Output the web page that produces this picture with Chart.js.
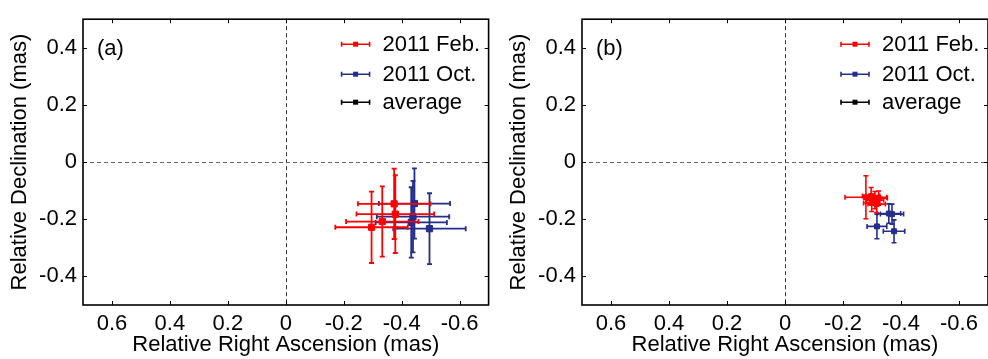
<!DOCTYPE html>
<html>
<head>
<meta charset="utf-8">
<script src="https://cdn.jsdelivr.net/npm/chart.js@4.4.0/dist/chart.umd.min.js"></script>
<style>
html,body{margin:0;padding:0;background:#fff;width:988px;height:359px;overflow:hidden;}
canvas{position:absolute;top:0;}
</style>
</head>
<body>
<canvas id="ca" width="494" height="359" style="left:0px"></canvas>
<canvas id="cb" width="494" height="359" style="left:499px"></canvas>
<script>
// ---- tick labels ----
const xTickValues = [0.6, 0.4, 0.2, 0, -0.2, -0.4, -0.6];
const xTickLabels = ['0.6', '0.4', '0.2', '0', '-0.2', '-0.4', '-0.6'];
const yTickValues = [0.4, 0.2, 0, -0.2, -0.4];
const yTickLabels = ['0.4', '0.2', '0', '-0.2', '-0.4'];
const seriesNames = ['2011 Feb.', '2011 Oct.', 'average'];

// ---- panel (a) ----
const aFebX    = [-0.374, -0.378, -0.333, -0.296];
const aFebY    = [-0.146, -0.182, -0.208, -0.228];
const aFebXErr = [0.125, 0.134, 0.125, 0.125];
const aFebYErr = [0.123, 0.136, 0.123, 0.125];
const aOctX    = [-0.444, -0.439, -0.433, -0.496];
const aOctY    = [-0.145, -0.191, -0.211, -0.233];
const aOctXErr = [0.123, 0.125, 0.123, 0.125];
const aOctYErr = [0.123, 0.125, 0.123, 0.124];

// ---- panel (b) ----
const bFebX    = [-0.279, -0.297, -0.310, -0.323, -0.299, -0.316];
const bFebY    = [-0.123, -0.119, -0.133, -0.126, -0.143, -0.147];
const bFebXErr = [0.072, 0.030, 0.030, 0.030, 0.028, 0.030];
const bFebYErr = [0.075, 0.030, 0.030, 0.025, 0.030, 0.030];
const bOctX    = [-0.358, -0.369, -0.317, -0.376];
const bOctY    = [-0.180, -0.182, -0.225, -0.242];
const bOctXErr = [0.041, 0.040, 0.034, 0.037];
const bOctYErr = [0.034, 0.035, 0.043, 0.040];

const RED = '#ff0000', BLUE = '#232d8c', BLACK = '#000000';
const FONT = '"Liberation Sans", Arial, Helvetica, sans-serif';
const FS = 22;

function pts(xs, ys, xe, ye) {
  return xs.map((x, i) => ({x: x, y: ys[i], xErr: xe[i], yErr: ye[i]}));
}

const errorBarPlugin = {
  id: 'errorBars',
  beforeDatasetDraw(chart, args) {
    const ds = chart.data.datasets[args.index];
    const xs = chart.scales.x, ys = chart.scales.y;
    const ctx = chart.ctx;
    const cap = chart.options.plugins.errorBars.cap;
    ctx.save();
    ctx.strokeStyle = ds.borderColor;
    ctx.lineWidth = chart.options.plugins.errorBars.width;
    ds.data.forEach(p => {
      const px = xs.getPixelForValue(p.x), py = ys.getPixelForValue(p.y);
      const x1 = xs.getPixelForValue(p.x - p.xErr), x2 = xs.getPixelForValue(p.x + p.xErr);
      const y1 = ys.getPixelForValue(p.y - p.yErr), y2 = ys.getPixelForValue(p.y + p.yErr);
      ctx.beginPath();
      ctx.moveTo(x1, py); ctx.lineTo(x2, py);
      ctx.moveTo(x1, py - cap); ctx.lineTo(x1, py + cap);
      ctx.moveTo(x2, py - cap); ctx.lineTo(x2, py + cap);
      ctx.moveTo(px, y1); ctx.lineTo(px, y2);
      ctx.moveTo(px - cap, y1); ctx.lineTo(px + cap, y1);
      ctx.moveTo(px - cap, y2); ctx.lineTo(px + cap, y2);
      ctx.stroke();
    });
    ctx.restore();
  }
};

const framePlugin = {
  id: 'frame',
  beforeDatasetsDraw(chart) {
    const {ctx, chartArea: a} = chart;
    const xs = chart.scales.x, ys = chart.scales.y;
    const x0 = xs.getPixelForValue(0), y0 = ys.getPixelForValue(0);
    ctx.save();
    ctx.lineWidth = 1;
    ctx.setLineDash([4, 3]);
    ctx.strokeStyle = '#333';
    ctx.beginPath();
    ctx.moveTo(Math.round(x0) + 0.5, a.top); ctx.lineTo(Math.round(x0) + 0.5, a.bottom);
    ctx.stroke();
    ctx.strokeStyle = '#666';
    ctx.beginPath();
    ctx.moveTo(a.left, Math.round(y0) + 0.5); ctx.lineTo(a.right, Math.round(y0) + 0.5);
    ctx.stroke();
    ctx.restore();
  },
  afterDraw(chart) {
    const {ctx, chartArea: a} = chart;
    const xs = chart.scales.x, ys = chart.scales.y;
    const opts = chart.options.plugins.frame;
    ctx.save();
    ctx.strokeStyle = '#000';
    ctx.lineWidth = 1.6;
    ctx.strokeRect(a.left, a.top, a.right - a.left, a.bottom - a.top);
    ctx.lineWidth = 1;
    const tl = 4;
    ctx.beginPath();
    xTickValues.forEach(v => {
      const px = Math.round(xs.getPixelForValue(v)) + 0.5;
      ctx.moveTo(px, a.bottom); ctx.lineTo(px, a.bottom - tl);
      ctx.moveTo(px, a.top); ctx.lineTo(px, a.top + tl);
    });
    yTickValues.forEach(v => {
      const py = Math.round(ys.getPixelForValue(v)) + 0.5;
      ctx.moveTo(a.left, py); ctx.lineTo(a.left + tl, py);
      ctx.moveTo(a.right, py); ctx.lineTo(a.right - tl, py);
    });
    ctx.stroke();

    // panel label
    ctx.fillStyle = '#000';
    ctx.font = FS + 'px ' + FONT;
    ctx.textBaseline = 'middle';
    ctx.textAlign = 'left';
    ctx.fillText(opts.label, a.left + 14, a.top + 30);

    // legend
    const colors = [RED, BLUE, BLACK];
    const rowY = [25, 55, 83];
    seriesNames.forEach((name, i) => {
      const y = a.top + rowY[i];
      const lx1 = a.right - 147, lx2 = a.right - 119;
      ctx.strokeStyle = colors[i];
      ctx.fillStyle = colors[i];
      ctx.lineWidth = 1.6;
      ctx.beginPath();
      ctx.moveTo(lx1, y); ctx.lineTo(lx2, y);
      ctx.moveTo(lx1, y - 2.5); ctx.lineTo(lx1, y + 2.5);
      ctx.moveTo(lx2, y - 2.5); ctx.lineTo(lx2, y + 2.5);
      ctx.stroke();
      ctx.fillRect((lx1 + lx2) / 2 - 2.5, y - 2.5, 5, 5);
      ctx.fillStyle = '#000';
      ctx.fillText(name, a.right - 106, y + 1);
    });
    ctx.restore();
  }
};

function makeChart(id, febData, octData, label, radius, lw) {
  return new Chart(document.getElementById(id), {
    type: 'scatter',
    data: {
      datasets: [
        {label: seriesNames[0], data: febData, borderColor: RED, backgroundColor: RED,
         pointStyle: 'rect', pointRadius: radius, pointBorderWidth: 1},
        {label: seriesNames[1], data: octData, borderColor: BLUE, backgroundColor: BLUE,
         pointStyle: 'rect', pointRadius: radius, pointBorderWidth: 1},
        {label: seriesNames[2], data: [], borderColor: BLACK, backgroundColor: BLACK,
         pointStyle: 'rect', pointRadius: radius, pointBorderWidth: 1}
      ]
    },
    options: {
      responsive: false,
      animation: false,
      events: [],
      layout: {padding: {top: 13, right: 2, left: 0, bottom: 0}},
      plugins: {
        legend: {display: false},
        tooltip: {enabled: false},
        errorBars: {cap: 2.5, width: lw},
        frame: {label: label}
      },
      scales: {
        x: {
          type: 'linear', min: -0.7, max: 0.7, reverse: true,
          grid: {display: false, drawTicks: false, tickLength: 0},
          border: {display: false},
          afterFit(s) { s.height = 54; },
          afterBuildTicks(s) { s.ticks = xTickValues.map(v => ({value: v})); },
          ticks: {
            color: '#000', padding: 6, maxRotation: 0, autoSkip: false,
            font: {family: FONT, size: FS},
            callback: (v, i) => xTickLabels[i]
          },
          title: {display: true, text: 'Relative Right Ascension (mas)', color: '#000',
                  font: {family: FONT, size: FS}, padding: {top: 0, bottom: 1}}
        },
        y: {
          type: 'linear', min: -0.5, max: 0.5,
          grid: {display: false, drawTicks: false, tickLength: 0},
          border: {display: false},
          afterFit(s) { s.width = 83; },
          afterBuildTicks(s) { s.ticks = yTickValues.map(v => ({value: v})); },
          ticks: {
            color: '#000', padding: 6, autoSkip: false,
            font: {family: FONT, size: FS},
            callback: (v, i) => yTickLabels[i]
          },
          title: {display: true, text: 'Relative Declination (mas)', color: '#000',
                  font: {family: FONT, size: FS}, padding: {top: 7, bottom: 0}}
        }
      }
    },
    plugins: [framePlugin, errorBarPlugin]
  });
}

makeChart('ca', pts(aFebX, aFebY, aFebXErr, aFebYErr), pts(aOctX, aOctY, aOctXErr, aOctYErr), '(a)', 4.4, 1.8);
makeChart('cb', pts(bFebX, bFebY, bFebXErr, bFebYErr), pts(bOctX, bOctY, bOctXErr, bOctYErr), '(b)', 3.5, 1.6);
</script>
</body>
</html>
